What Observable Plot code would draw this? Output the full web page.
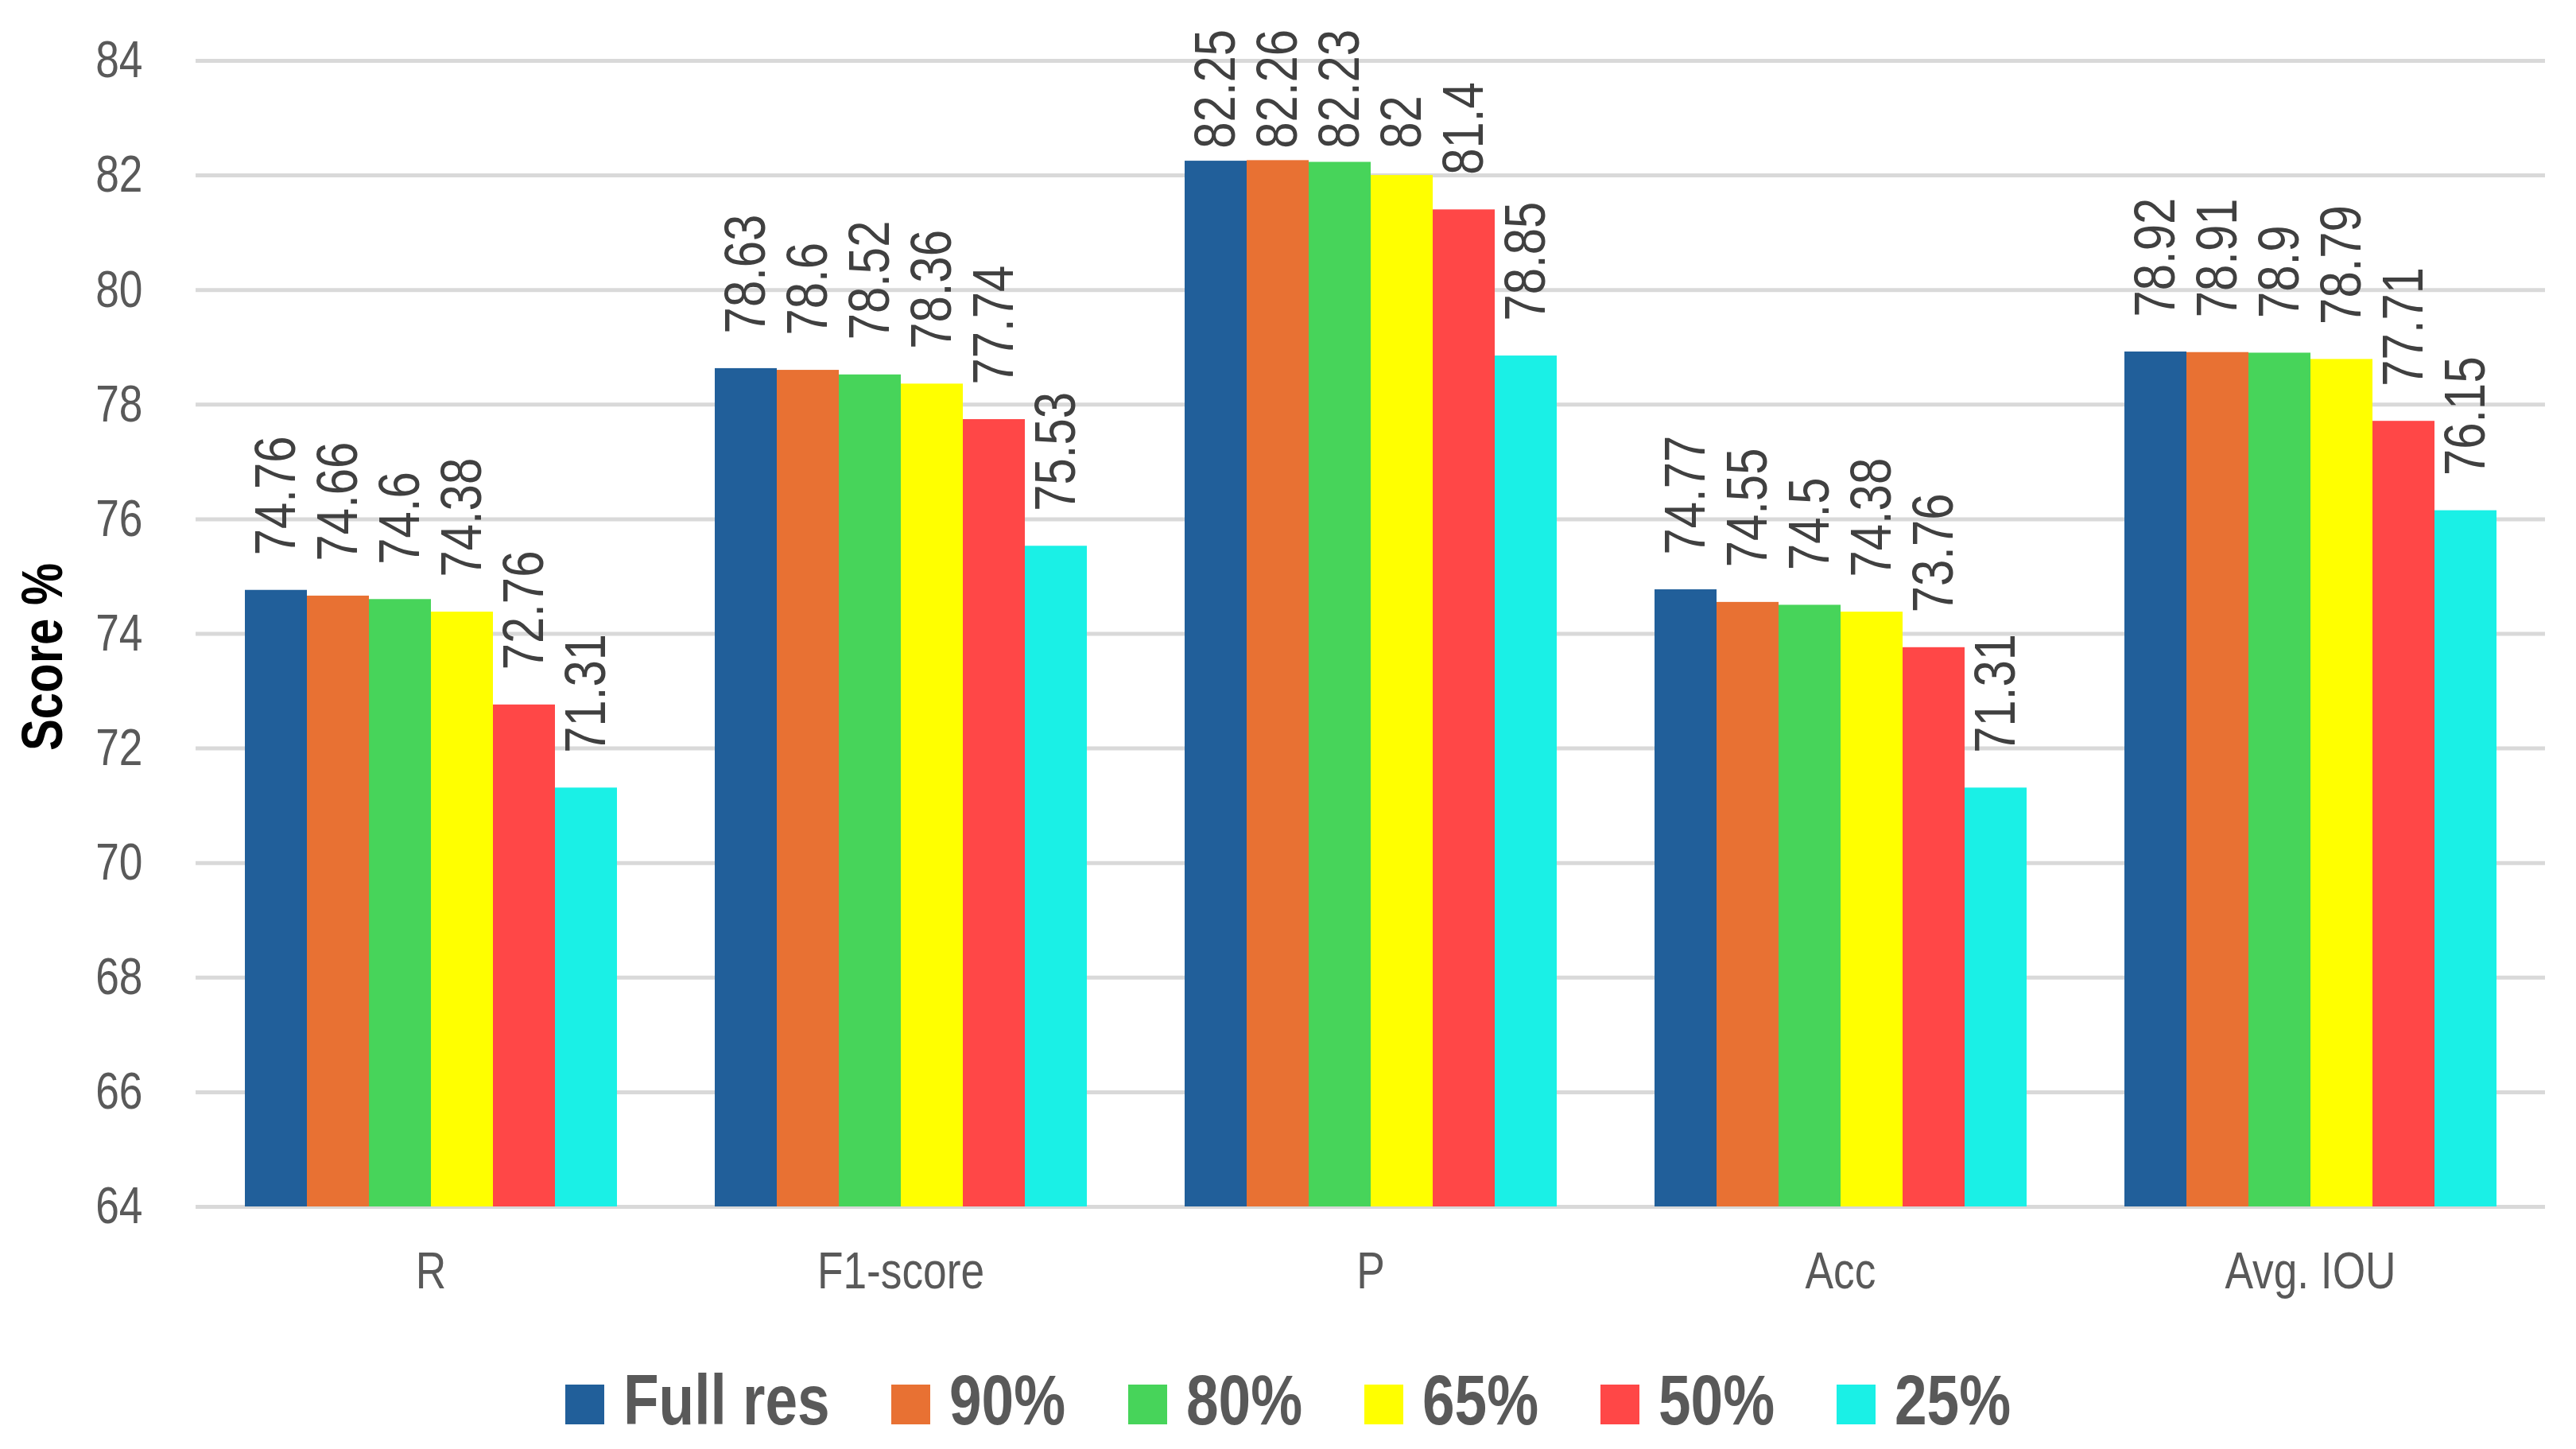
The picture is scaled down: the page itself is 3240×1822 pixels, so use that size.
<!DOCTYPE html>
<html>
<head>
<meta charset="utf-8">
<script src="https://cdn.jsdelivr.net/npm/d3@7"></script>
<script src="https://cdn.jsdelivr.net/npm/@observablehq/plot@0.6"></script>
<style>
  html, body { margin: 0; padding: 0; background: #fff; }
  body { width: 3240px; font-family: "Liberation Sans", Arial, sans-serif; }
  #chart svg { display: block; font-family: "Liberation Sans", Arial, sans-serif; }
  g[aria-label="y-axis label"] text { font-weight: bold; fill: #000; font-size: 73px; }
  #legend { height: 142px; box-sizing: border-box; padding-top: 36px; display: flex; justify-content: center; align-items: baseline; gap: 78px; }
  #legend .item { display: inline-flex; align-items: baseline; gap: 24px; font-size: 89px; font-weight: bold; color: #595959; line-height: 1; white-space: nowrap; }
  #legend .sw { display: inline-block; width: 49px; height: 50px; }
  #legend .txt { display: inline-block; transform: scaleX(0.82); transform-origin: 0 0; }
</style>
</head>
<body>
<div id="chart"></div>
<div id="legend"></div>
<script>
const categories = ["R", "F1-score", "P", "Acc", "Avg. IOU"];
const series = ["Full res", "90%", "80%", "65%", "50%", "25%"];
const fullRes = [74.76, 78.63, 82.25, 74.77, 78.92];
const res90 = [74.66, 78.6, 82.26, 74.55, 78.91];
const res80 = [74.6, 78.52, 82.23, 74.5, 78.9];
const res65 = [74.38, 78.36, 82, 74.38, 78.79];
const res50 = [72.76, 77.74, 81.4, 73.76, 77.71];
const res25 = [71.31, 75.53, 78.85, 71.31, 76.15];
const colors = ["#215F9A", "#E87133", "#47D45A", "#FFFF00", "#FF4747", "#1AF0E6"];
const yTicks = [64, 66, 68, 70, 72, 74, 76, 78, 80, 82, 84];
const labelMaxValue = 81.86; // labels of taller bars are pushed down to stay inside the chart

const seriesValues = [fullRes, res90, res80, res65, res50, res25];
const data = [];
categories.forEach((c, i) => {
  series.forEach((s, j) => {
    data.push({category: c, series: s, value: seriesValues[j][i]});
  });
});

const NARROW = 0.82;
const W = 3240, H = 1680;
const chart = Plot.plot({
  width: W,
  height: H,
  marginLeft: 244,
  marginRight: 38,
  marginTop: 76,
  marginBottom: H - 1517,
  style: {color: "#595959", background: "#fff"},
  fx: {domain: categories, padding: 0, paddingInner: 0, paddingOuter: 0},
  x: {domain: series, axis: null, paddingInner: 0, paddingOuter: 0.75},
  y: {domain: [64, 84]},
  color: {domain: series, range: colors},
  marks: [
    Plot.gridY(yTicks, {stroke: "#d9d9d9", strokeOpacity: 1, strokeWidth: 5}),
    Plot.barY(data, {fx: "category", x: "series", y1: 64, y2: "value", fill: "series", inset: 0}),
    Plot.text(data, {
      fx: "category", x: "series", y: d => Math.min(d.value, labelMaxValue),
      text: d => String(d.value),
      rotate: -90, textAnchor: "start", lineAnchor: "middle",
      dy: -44, fontSize: 73, fill: "#404040"
    }),
    Plot.axisY(yTicks, {
      tickSize: 0, tickPadding: 67, fontSize: 65, fill: "#595959",
      tickFormat: d => String(d),
      label: "Score %", labelAnchor: "center", labelArrow: "none", labelOffset: 220
    }),
    Plot.axisFx({anchor: "bottom", tickSize: 0, tickPadding: 56, fontSize: 65, fill: "#595959", label: null})
  ]
});
document.getElementById("chart").appendChild(chart);

// narrow chart texts along their own writing direction (keeps em-based offsets intact)
function narrow(sel, s) {
  chart.querySelectorAll(sel).forEach(t => {
    let tr = t.getAttribute("transform") || "";
    const xa = t.getAttribute("x");
    if (xa != null && !/em/.test(xa)) {
      const x = parseFloat(xa) || 0;
      t.removeAttribute("x");
      tr += ` translate(${x},0)`;
    }
    t.setAttribute("transform", `${tr} scale(${s},1)`);
  });
}
narrow('g[aria-label="text"] text', NARROW);
narrow('g[aria-label="y-axis tick label"] text', NARROW);
narrow('g[aria-label="fx-axis tick label"] text', NARROW);
narrow('g[aria-label="y-axis label"] text', NARROW);
chart.querySelectorAll('g[aria-label="y-axis label"] text').forEach(t => {
  t.setAttribute("transform", `translate(0,29) ${t.getAttribute("transform") || ""}`);
});

const legend = document.getElementById("legend");
series.forEach((s, j) => {
  const item = document.createElement("span");
  item.className = "item";
  const sw = document.createElement("span");
  sw.className = "sw";
  sw.style.background = colors[j];
  const t = document.createElement("span");
  t.className = "txt";
  t.textContent = s;
  item.appendChild(sw);
  item.appendChild(t);
  legend.appendChild(item);
  const w = t.offsetWidth;
  t.style.marginRight = (-(1 - NARROW) * w) + "px";
});
</script>
</body>
</html>
